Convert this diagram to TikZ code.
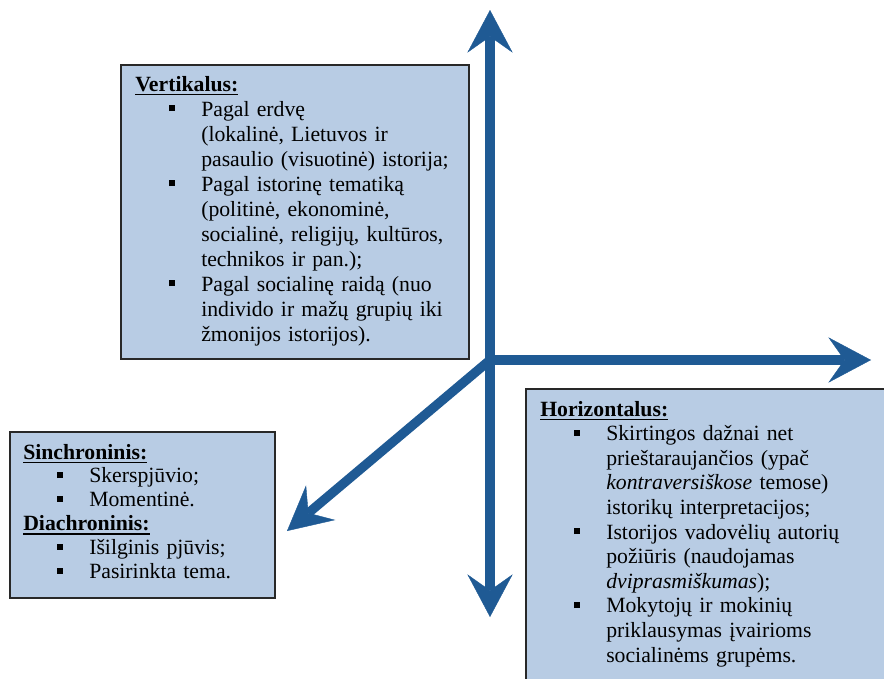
\documentclass[tikz,border=0pt]{standalone}
\usepackage{fontspec}
\setmainfont{Liberation Serif}
\usetikzlibrary{arrows.meta}
\definecolor{boxfill}{RGB}{184,204,228}
\definecolor{arrowblue}{RGB}{31,90,148}
\definecolor{boxline}{RGB}{40,40,40}
\newsavebox\hdbox
\newcommand\hdul[1]{\leavevmode\sbox\hdbox{\textbf{#1}}\rlap{\rule[-3.2pt]{\wd\hdbox}{1.3pt}}\usebox\hdbox}
\newcommand\myitem{\leavevmode\makebox[49.5pt][l]{\hspace*{25.5pt}\rule[3.6pt]{4.3pt}{4.3pt}}}
\newcommand\mycont{\leavevmode\hspace*{49.5pt}}
\begin{document}
\begin{tikzpicture}[x=0.75pt,y=-0.75pt,
  panel/.style={draw=boxline, line width=1.2pt, fill=boxfill, inner sep=0pt, anchor=north west},
  paneltext/.style={anchor=base west, inner sep=0pt, text width=300pt, align=left},
  bigarrow/.style={draw=arrowblue, line width=7pt, line cap=butt},
]
\useasboundingbox (0,0) rectangle (884,678);

% panels
\node[panel, minimum width=261pt, minimum height=220.5pt] (vbox) at (120,64) {};
\node[panel, minimum width=198.75pt, minimum height=124.5pt] (sbox) at (9,431) {};
\node[panel, minimum width=271.5pt, minimum height=220.5pt] (hbox) at (525,388) {};

% texts
\node[paneltext, font=\fontsize{16.3}{18.75}\selectfont] (vtext) at (135,91) {%
\hdul{Vertikalus:}\\
\myitem Pagal erdvę\\
\mycont (lokalinė, Lietuvos ir\\
\mycont pasaulio (visuotinė) istorija;\\
\myitem Pagal istorinę tematiką\\
\mycont (politinė, ekonominė,\\
\mycont socialinė, religijų, kultūros,\\
\mycont technikos ir pan.);\\
\myitem Pagal socialinę raidą (nuo\\
\mycont individo ir mažų grupių iki\\
\mycont žmonijos istorijos).};

\node[paneltext, font=\fontsize{16.3}{17.9}\selectfont] (stext) at (23,459) {%
\hdul{Sinchroninis:}\\
\myitem Skerspjūvio;\\
\myitem Momentinė.\\
\hdul{Diachroninis:}\\
\myitem Išilginis pjūvis;\\
\myitem Pasirinkta tema.};

\node[paneltext, font=\fontsize{16.3}{18.45}\selectfont] (htext) at (540,416) {%
\hdul{Horizontalus:}\\
\myitem Skirtingos dažnai net\\
\mycont prieštaraujančios (ypač\\
\mycont \textit{kontraversiškose} temose)\\
\mycont istorikų interpretacijos;\\
\myitem Istorijos vadovėlių autorių\\
\mycont požiūris (naudojamas\\
\mycont \textit{dviprasmiškumas});\\
\myitem Mokytojų ir mokinių\\
\mycont priklausymas įvairioms\\
\mycont socialinėms grupėms.};

% axes
\coordinate (O) at (490,360);
\coordinate (N) at (490,10);
\coordinate (S) at (490,617);
\coordinate (E) at (871,360);
\coordinate (W) at (287,531);
\draw[bigarrow, {Stealth[length=32pt,width=34pt,inset=12pt,line width=0.3pt]}-{Stealth[length=32pt,width=34pt,inset=12pt,line width=0.3pt]}] (N) -- (S);
\draw[bigarrow, -{Stealth[length=32pt,width=34pt,inset=12pt,line width=0.3pt]}] (O) -- (E);
\draw[bigarrow, -{Stealth[length=33pt,width=34pt,inset=12pt,line width=0.3pt]}] (O) -- (W);
\end{tikzpicture}
\end{document}
